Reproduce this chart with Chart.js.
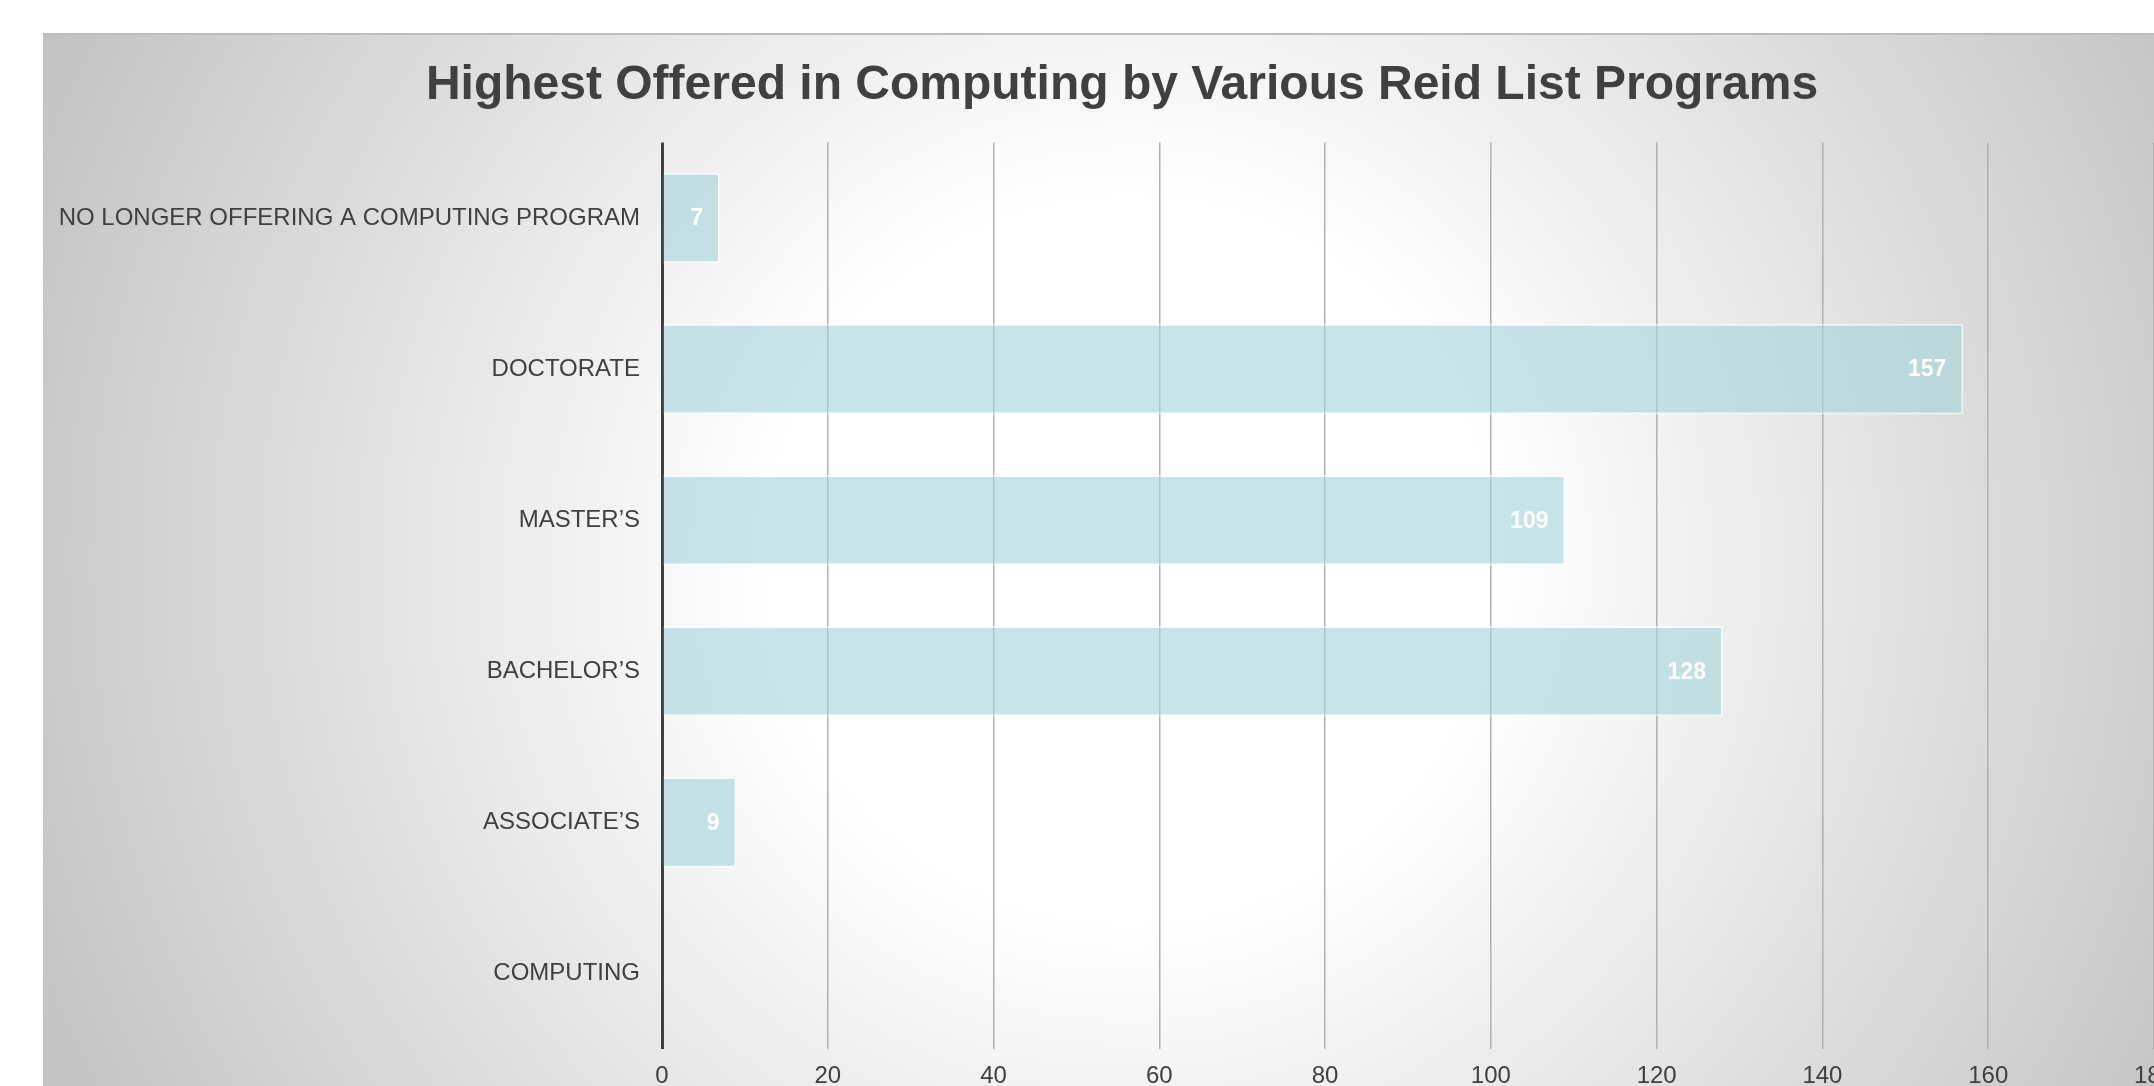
<!DOCTYPE html>
<html>
<head>
<meta charset="utf-8">
<title>Highest Offered in Computing</title>
<script src="https://cdn.jsdelivr.net/npm/chart.js@4"></script>
<style>
    html, body { margin: 0; padding: 0; overflow: hidden; background: #fff; }
    #myChart { display: block; }
</style>
</head>
<body>
<canvas id="myChart" width="2201" height="1109"></canvas>
<script>
const categories = [
    'NO LONGER OFFERING A COMPUTING PROGRAM',
    'DOCTORATE',
    "MASTER\u2019S",
    "BACHELOR\u2019S",
    "ASSOCIATE\u2019S",
    'COMPUTING'
];
const programCounts = [7, 157, 109, 128, 9, null];
const xTicks = [0, 20, 40, 60, 80, 100, 120, 140, 160, 180];

// gray radial background behind the whole chart
const backgroundPlugin = {
    id: 'background',
    beforeDraw(chart) {
        const c = chart.ctx;
        const w = chart.width, h = chart.height;
        const g = c.createRadialGradient(1130, 560, 0, 1130, 560, 1200);
        g.addColorStop(0, '#ffffff');
        g.addColorStop(0.3, '#ffffff');
        g.addColorStop(1, '#c2c2c2');
        c.save();
        c.fillStyle = g;
        c.fillRect(43, 33, w - 43, h - 33);
        c.strokeStyle = '#bdbdbd';
        c.lineWidth = 2;
        c.beginPath();
        c.moveTo(43, 34);
        c.lineTo(w, 34);
        c.stroke();
        c.restore();
    }
};

// white value labels at the inner end of each bar
const barLabels = {
    id: 'barLabels',
    afterDatasetsDraw(chart) {
        const c = chart.ctx;
        const meta = chart.getDatasetMeta(0);
        c.save();
        c.fillStyle = '#ffffff';
        c.font = 'bold 23px "Liberation Sans", Arial, sans-serif';
        c.textAlign = 'right';
        c.textBaseline = 'middle';
        meta.data.forEach(function (bar, i) {
            const v = programCounts[i];
            if (v === null || v === undefined) return;
            c.fillText(String(v), bar.x - 17, bar.y + 1);
        });
        c.restore();
    }
};

document.addEventListener('DOMContentLoaded', function () {
    const ctx = document.getElementById('myChart');

    new Chart(ctx, {
        type: 'bar',
        data: {
            labels: categories,
            datasets: [{
                data: programCounts,
                backgroundColor: 'rgba(165, 213, 218, 0.62)',
                borderColor: 'rgba(255, 255, 255, 0.6)',
                borderWidth: 2,
                barPercentage: 0.6,
                categoryPercentage: 1
            }]
        },
        options: {
            indexAxis: 'y',
            responsive: false,
            animation: false,
            layout: { padding: { left: 43, top: 33, right: 0, bottom: 0 } },
            plugins: {
                legend: { display: false },
                tooltip: { enabled: false },
                title: {
                    display: true,
                    text: 'Highest Offered in Computing by Various Reid List Programs',
                    color: '#404040',
                    font: { family: '"Liberation Sans", Arial, sans-serif', size: 48, weight: 'bold', lineHeight: 1.2 },
                    padding: { top: 24, bottom: 27.9 }
                }
            },
            scales: {
                x: {
                    min: 0,
                    max: 180,
                    afterBuildTicks: function (scale) {
                        scale.ticks = xTicks.map(function (v) { return { value: v }; });
                    },
                    afterFit: function (scale) {
                        scale.height = 60;
                        scale.paddingLeft = 0;
                        scale.paddingRight = 47;
                    },
                    grid: {
                        drawTicks: false,
                        color: function (c) { return c.tick && c.tick.value === 0 ? '#404040' : '#b0b0b0'; },
                        lineWidth: function (c) { return c.tick && c.tick.value === 0 ? 3 : 1.5; }
                    },
                    border: { display: false },
                    ticks: {
                        padding: 13,
                        color: '#404040',
                        font: { family: '"Liberation Sans", Arial, sans-serif', size: 24 }
                    }
                },
                y: {
                    afterFit: function (scale) {
                        scale.width = 619;
                    },
                    grid: { display: false, drawTicks: false },
                    border: { display: false },
                    ticks: {
                        padding: 22,
                        color: '#404040',
                        font: { family: '"Liberation Sans", Arial, sans-serif', size: 24 }
                    }
                }
            }
        },
        plugins: [backgroundPlugin, barLabels]
    });
});
</script>
</body>
</html>
